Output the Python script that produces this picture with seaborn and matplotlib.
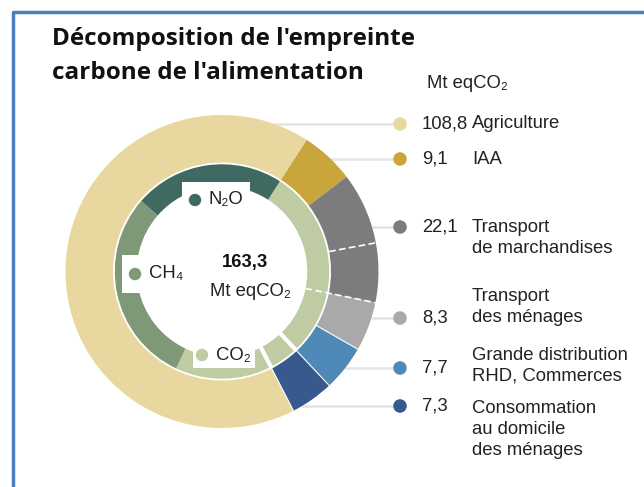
import numpy as np
import matplotlib
matplotlib.use("Agg")
import matplotlib.pyplot as plt
import seaborn as sns
from matplotlib.lines import Line2D
from matplotlib.patches import Rectangle

# data (Mt eqCO2)
sectors = ["IAA", "Transport\nde marchandises", "Transport\ndes ménages",
           "Grande distribution\nRHD, Commerces", "Consommation\nau domicile\ndes ménages",
           "Agriculture"]
values = [9.1, 22.1, 8.3, 7.7, 7.3, 108.8]
value_labels = ["9,1", "22,1", "8,3", "7,7", "7,3", "108,8"]
freight_split = [12.1, 10.0]
gases = ["CO₂", "CH₄", "N₂O"]
gas_values = [78.3, 48.0, 37.0]
total_label = "163,3"

outer_colors = ["#C9A63C", "#7C7C7E", "#A9A9AB", "#4F89B8", "#37598E", "#E8D79E"]
gas_colors = ["#BFCBA2", "#7E9878", "#3F6A61"]

sns.set_theme(style="white")
plt.rcParams['font.family'] = ['Liberation Sans', 'DejaVu Sans']

W, H = 644, 487
CX, CY, R = 222, 271.5, 156.5   # ring centre and outer radius in pixels
FS = 13.3


def px(x, y):
    return (x - CX) / R, (CY - y) / R


fig = plt.figure(figsize=(W / 100, H / 100), dpi=100)
ax = fig.add_axes([(CX - R) / W, (H - CY - R) / H, 2 * R / W, 2 * R / H])

start = 57.3
r_out_in = 0.6965
r_in_out, r_in_in = 0.685, 0.545

ax.pie(values, colors=outer_colors, radius=1, startangle=start, counterclock=False,
       wedgeprops=dict(width=1 - r_out_in, edgecolor="none"))
ax.pie(gas_values, colors=gas_colors, radius=r_in_out, startangle=start, counterclock=False,
       wedgeprops=dict(width=r_in_out - r_in_in, edgecolor="none"))
ax.set_xlim(-1, 1)
ax.set_ylim(-1, 1)
ax.axis("off")

# separators derived from the data
total = sum(values)
bounds = start - np.cumsum(values) / total * 360
split_ang = start - (values[0] + freight_split[0]) / total * 360


def radial(ang, r0, r1, **kw):
    a = np.deg2rad(ang)
    ax.plot([r0 * np.cos(a), r1 * np.cos(a)], [r0 * np.sin(a), r1 * np.sin(a)],
            color="white", zorder=2, solid_capstyle="butt", **kw)


radial(split_ang, r_out_in, 1.0, lw=1.2, ls=(0, (4, 2)))
radial(bounds[1], r_in_in, 1.0, lw=1.2, ls=(0, (4, 2)))
radial(bounds[2], r_out_in, 1.0, lw=0.8)
radial(bounds[3], r_out_in, 1.0, lw=0.8)
radial(bounds[4], r_out_in, 1.0, lw=0.8)
radial(bounds[3], r_in_in - 0.01, r_out_in, lw=3)
radial(bounds[4], r_in_in - 0.01, r_out_in, lw=3)

# gas labels in white boxes
box_pos = [((193, 368), 62, 40), ((122, 293), 70, 38), ((182, 232), 68, 50)]
mark_pos = [(202, 355), (135, 274), (195, 200)]
for (bx, by), bw, bh in box_pos:
    x0, y0 = px(bx, by)
    ax.add_patch(Rectangle((x0, y0), bw / R, bh / R, fc="white", ec="none", zorder=3))
for g, c, (mx, my) in zip(gases, gas_colors, mark_pos):
    x, y = px(mx, my)
    ax.scatter([x], [y], s=80, color=c, edgecolor="none", zorder=4)
    ax.text(x + 14 / R, y, g, fontsize=FS, va="center", ha="left", color="#222222", zorder=5)

# centre total
x, y = px(245, 262)
ax.text(x, y, total_label, fontsize=FS, fontweight="bold", ha="center", va="center", color="#111111")
x, y = px(250, 291)
ax.text(x, y, "Mt eqCO₂", fontsize=FS, ha="center", va="center", color="#222222")

# right-hand legend with leader lines
marker_y = [159, 227, 318, 368, 406, 124]
name_y = [159, 238, 307, 365.5, 429.5, 124]
xm = px(400, 0)[0]
xv = px(422, 0)[0]
xn = px(472, 0)[0]
for name, lab, c, my, ny in zip(sectors, value_labels, outer_colors, marker_y, name_y):
    y = px(0, my)[1]
    x_edge = np.sqrt(1 - y ** 2)
    ax.plot([x_edge, xm], [y, y], color="#E4E4E4", lw=1.8, zorder=0, clip_on=False)
    ax.scatter([xm], [y], s=95, color=c, edgecolor="none", zorder=4, clip_on=False)
    ax.text(xv, y, lab, fontsize=FS, va="center", ha="left", color="#222222")
    ax.text(xn, px(0, ny)[1], name, fontsize=FS, va="center", ha="left",
            color="#222222", linespacing=1.3)

x, y = px(427, 83)
ax.text(x, y, "Mt eqCO₂", fontsize=FS, va="center", ha="left", color="#222222")

title = ["Décomposition de l'empreinte", "carbone de l'alimentation"]
for line, base in zip(title, [45, 79]):
    fig.text(52 / W, 1 - base / H, line, fontsize=17.5, fontweight="bold",
             family=["Open Sans", "DejaVu Sans"], va="baseline", ha="left", color="#111111")

# frame
fig.add_artist(Line2D([13 / W, 13 / W, 1], [0, 1 - 12 / H, 1 - 12 / H],
                      color="#4A7EBB", lw=2.5, transform=fig.transFigure))

plt.savefig("out.png", dpi=100)
